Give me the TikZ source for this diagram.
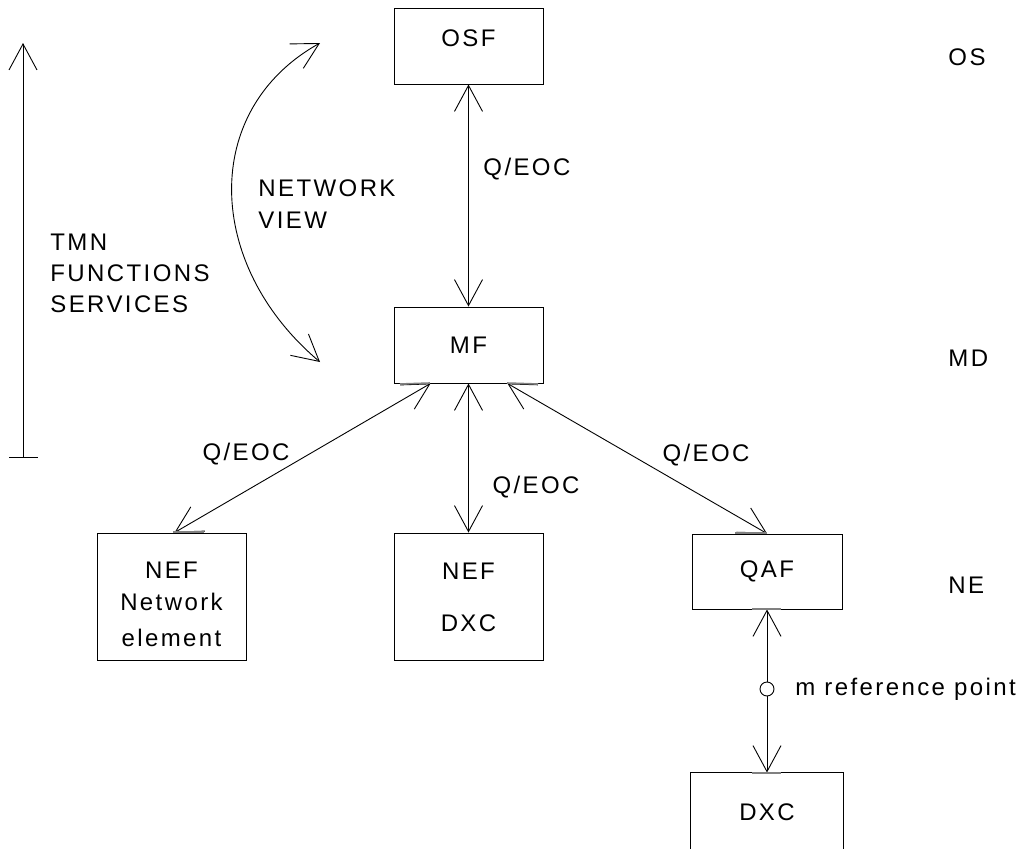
\documentclass[tikz,border=0pt]{standalone}
\usepackage{fontspec}
\setmainfont{Liberation Sans}[LetterSpace=10]
\usetikzlibrary{arrows.meta}
\tikzset{
  vb/.tip={Straight Barb[length=26pt,width=28pt,line width=0.9pt]},
  box/.style={draw, rectangle, inner sep=0pt, font=\fontsize{24}{32}\selectfont},
  lbl/.style={inner sep=0pt, font=\fontsize{24}{32}\selectfont},
  tick/.style={draw=gray, line width=1.6pt},
  conn/.style={draw, vb-vb}
}
\begin{document}
\begin{tikzpicture}[x=1pt,y=-1pt,line width=0.9pt]
\useasboundingbox (0,0) rectangle (1021,849);

% boxes
\node[box, minimum width=149pt, minimum height=76pt] (OSF) at (468.5,46) {};
\node[lbl] (osft) at (468.5,38.5) {OSF};
\node[box, minimum width=149pt, minimum height=76pt] (MF) at (468.5,345) {MF};
\node[box, minimum width=149pt, minimum height=127pt] (NEF1) at (171.5,596.5) {};
\node[lbl, align=center] (nef1t) at (171.5,604) {NEF\\Network\\[4pt]element};
\node[box, minimum width=149pt, minimum height=127pt] (NEF2) at (468.5,596.5) {};
\node[lbl, align=center] (nef2t) at (468.5,597) {NEF\\[20pt]DXC};
\node[box, minimum width=150pt, minimum height=75pt] (QAF) at (767,571.5) {QAF};
\node[rectangle, inner sep=0pt, minimum width=152pt, minimum height=76pt] (DXC) at (767,811) {};
\draw (DXC.south west) -- (DXC.north west) -- (DXC.north east) -- (DXC.south east);
\node[lbl] (dxct) at (767,812) {DXC};

% connectors
\draw[conn] (OSF.south) -- (MF.north);
\draw[conn] ([xshift=37pt]MF.south west) -- ([xshift=78pt]NEF1.north west);
\draw[conn] (MF.south) -- (NEF2.north);
\draw[conn] ([xshift=-36pt]MF.south east) -- (QAF.north);
\draw[conn] (QAF.south) -- (DXC.north);
\node[circle, draw, fill=white, inner sep=0pt, minimum size=14pt] (mref) at (767,689) {};

% grey ticks
\draw[tick] (173,532) -- (204,532);
\draw[tick] (400,384) -- (430,383);
\draw[tick] (507,383) -- (538,384);
\draw[tick] (735,533) -- (767,533);
\draw[tick] (752,609) -- (781,609);
\draw[tick] (752,773) -- (781,773);

% TMN arrow
\coordinate (tmnb) at (23,458);
\coordinate (tmnt) at (23,43);
\draw[{Bar[width=29pt,line width=1.4pt]}-vb] (tmnb) -- (tmnt);

% network view curve
\coordinate (ct) at (320,43);
\coordinate (cb) at (320,362);
\draw[vb-vb] (ct) .. controls (200,110) and (205,265) .. (cb);

% labels
\node[lbl, anchor=west] (qe0) at (483,169) {Q/EOC};
\node[lbl] (qe1) at (246,454) {Q/EOC};
\node[lbl] (qe2) at (536,487) {Q/EOC};
\node[lbl] (qe3) at (706,455) {Q/EOC};
\node[lbl, anchor=west, align=left] (nv) at (258,204) {NETWORK\\VIEW};
\node[lbl, anchor=west, align=left] (tmn) at (50,273) {TMN\\[-1pt]FUNCTIONS\\[-1pt]SERVICES};
\node[lbl, anchor=west] (os) at (948,57) {OS};
\node[lbl, anchor=west] (md) at (948,358) {MD};
\node[lbl, anchor=west] (ne) at (948,585) {NE};
\node[lbl, anchor=west] (mrt) at (795,689) {m reference point};
\end{tikzpicture}
\end{document}
